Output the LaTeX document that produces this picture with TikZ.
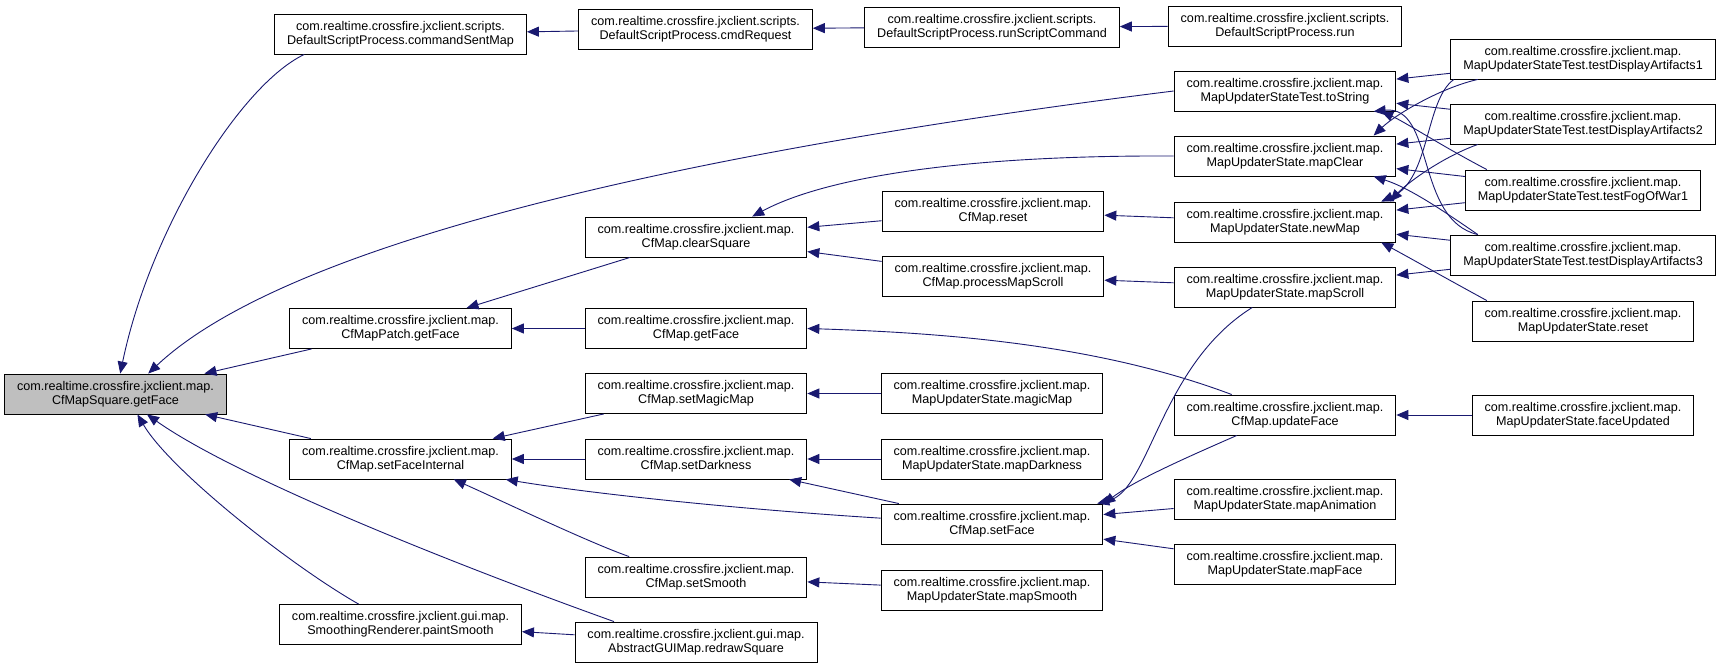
\documentclass[tikz,border=0pt]{standalone}
\usepackage{fontspec}
\setmainfont{Liberation Sans}
\usetikzlibrary{arrows.meta}
\definecolor{edgeblue}{HTML}{191970}
\definecolor{mainfill}{HTML}{BFBFBF}
\tikzset{
  fn/.style={draw=black, fill=white, line width=.9pt, minimum height=40pt,
    inner xsep=12.5pt, inner ysep=0pt, align=center,
    font=\fontsize{12.6}{13.8}\selectfont},
  mainfn/.style={fn, fill=mainfill},
  arr/.style={-{Triangle[length=12pt,width=10pt]}, draw=edgeblue, line width=.9pt}
}
\begin{document}
\begin{tikzpicture}[x=1pt,y=-1pt]
  \useasboundingbox (0,0) rectangle (1723,668);
  \fill[white] (0,0) rectangle (1723,668);

  \node[mainfn] (sqFace) at (115.5,394) {com.realtime.crossfire.jxclient.map.\\CfMapSquare.getFace};

  \node[fn] (cmdSent) at (400.5,34) {com.realtime.crossfire.jxclient.scripts.\\DefaultScriptProcess.commandSentMap};
  \node[fn] (patchFace) at (400.5,328.5) {com.realtime.crossfire.jxclient.map.\\CfMapPatch.getFace};
  \node[fn] (setFaceInt) at (400.5,459) {com.realtime.crossfire.jxclient.map.\\CfMap.setFaceInternal};
  \node[fn] (paintSm) at (400.5,624.5) {com.realtime.crossfire.jxclient.gui.map.\\SmoothingRenderer.paintSmooth};

  \node[fn] (cmdReq) at (695.5,29) {com.realtime.crossfire.jxclient.scripts.\\DefaultScriptProcess.cmdRequest};
  \node[fn] (clearSq) at (696,237) {com.realtime.crossfire.jxclient.map.\\CfMap.clearSquare};
  \node[fn] (cfFace) at (696,328.5) {com.realtime.crossfire.jxclient.map.\\CfMap.getFace};
  \node[fn] (setMagic) at (696,393.5) {com.realtime.crossfire.jxclient.map.\\CfMap.setMagicMap};
  \node[fn] (setDark) at (696,459) {com.realtime.crossfire.jxclient.map.\\CfMap.setDarkness};
  \node[fn] (setSmooth) at (696,577) {com.realtime.crossfire.jxclient.map.\\CfMap.setSmooth};
  \node[fn] (redraw) at (696,642) {com.realtime.crossfire.jxclient.gui.map.\\AbstractGUIMap.redrawSquare};

  \node[fn] (runCmd) at (992,27) {com.realtime.crossfire.jxclient.scripts.\\DefaultScriptProcess.runScriptCommand};
  \node[fn] (cfReset) at (993,211) {com.realtime.crossfire.jxclient.map.\\CfMap.reset};
  \node[fn] (procScroll) at (993,276) {com.realtime.crossfire.jxclient.map.\\CfMap.processMapScroll};
  \node[fn] (magicMap) at (992,393.5) {com.realtime.crossfire.jxclient.map.\\MapUpdaterState.magicMap};
  \node[fn] (mapDark) at (992,459) {com.realtime.crossfire.jxclient.map.\\MapUpdaterState.mapDarkness};
  \node[fn] (setFace) at (992,524) {com.realtime.crossfire.jxclient.map.\\CfMap.setFace};
  \node[fn] (mapSmooth) at (992,590) {com.realtime.crossfire.jxclient.map.\\MapUpdaterState.mapSmooth};

  \node[fn] (runScr) at (1285,26) {com.realtime.crossfire.jxclient.scripts.\\DefaultScriptProcess.run};
  \node[fn] (toStr) at (1285,91) {com.realtime.crossfire.jxclient.map.\\MapUpdaterStateTest.toString};
  \node[fn] (mapClear) at (1285,156) {com.realtime.crossfire.jxclient.map.\\MapUpdaterState.mapClear};
  \node[fn] (newMap) at (1285,222) {com.realtime.crossfire.jxclient.map.\\MapUpdaterState.newMap};
  \node[fn] (mapScroll) at (1285,287) {com.realtime.crossfire.jxclient.map.\\MapUpdaterState.mapScroll};
  \node[fn] (updFace) at (1285,415) {com.realtime.crossfire.jxclient.map.\\CfMap.updateFace};
  \node[fn] (mapAnim) at (1285,499) {com.realtime.crossfire.jxclient.map.\\MapUpdaterState.mapAnimation};
  \node[fn] (mapFace) at (1285,564) {com.realtime.crossfire.jxclient.map.\\MapUpdaterState.mapFace};

  \node[fn] (art1) at (1583,59) {com.realtime.crossfire.jxclient.map.\\MapUpdaterStateTest.testDisplayArtifacts1};
  \node[fn] (art2) at (1583,124) {com.realtime.crossfire.jxclient.map.\\MapUpdaterStateTest.testDisplayArtifacts2};
  \node[fn] (fog1) at (1583,190) {com.realtime.crossfire.jxclient.map.\\MapUpdaterStateTest.testFogOfWar1};
  \node[fn] (art3) at (1583,255) {com.realtime.crossfire.jxclient.map.\\MapUpdaterStateTest.testDisplayArtifacts3};
  \node[fn] (musReset) at (1583,321) {com.realtime.crossfire.jxclient.map.\\MapUpdaterState.reset};
  \node[fn] (faceUpd) at (1583,415) {com.realtime.crossfire.jxclient.map.\\MapUpdaterState.faceUpdated};

  % callers of CfMapSquare.getFace
  \draw[arr] (cmdSent.192.6) .. controls (240,85) and (150,230) .. (sqFace.77.3);
  \draw[arr] (toStr.west) .. controls (700,150) and (290,240) .. (sqFace.32.4);
  \draw[arr] (patchFace) -- (sqFace);
  \draw[arr] (setFaceInt) -- (sqFace);
  \draw[arr] (paintSm.154.8) .. controls (290,565) and (170,470) .. (sqFace.317.1);
  \draw[arr] (redraw.166.1) .. controls (470,570) and (240,480) .. (sqFace.327.6);

  \draw[arr] (clearSq) -- (patchFace);
  \draw[arr] (cfFace) -- (patchFace);
  \draw[arr] (cfReset) -- (clearSq);
  \draw[arr] (procScroll) -- (clearSq);
  \draw[arr] (mapClear.west) .. controls (950,155) and (820,180) .. (clearSq.20.3);

  \draw[arr] (cmdReq) -- (cmdSent);
  \draw[arr] (runCmd) -- (cmdReq);
  \draw[arr] (runScr) -- (runCmd);

  % callers of CfMap.setFaceInternal
  \draw[arr] (setMagic) -- (setFaceInt);
  \draw[arr] (setDark) -- (setFaceInt);
  \draw[arr] (setFace.177.4) .. controls (750,510) and (600,495) .. (setFaceInt.349.2);
  \draw[arr] (setSmooth.163.1) .. controls (590,543) and (500,500) .. (setFaceInt.339.9);

  \draw[arr] (updFace.159) .. controls (1100,345) and (950,333) .. (cfFace.east);
  \draw[arr] (mapScroll.212) .. controls (1160,365) and (1150,490) .. (setFace.11.8);
  \draw[arr] (updFace.203) .. controls (1190,456) and (1135,480) .. (setFace.10.3);
  \draw[arr] (mapAnim) -- (setFace);
  \draw[arr] (mapFace) -- (setFace);
  \draw[arr] (mapDark) -- (setDark);
  \draw[arr] (setFace) -- (setDark);
  \draw[arr] (magicMap) -- (setMagic);
  \draw[arr] (mapSmooth) -- (setSmooth);
  \draw[arr] (redraw) -- (paintSm);
  \draw[arr] (newMap) -- (cfReset);
  \draw[arr] (mapScroll) -- (procScroll);
  \draw[arr] (faceUpd) -- (updFace);

  % test callers
  \draw[arr] (art1) -- (toStr);
  \draw[arr] (art2) -- (toStr);
  \draw[arr] (fog1.168.6) .. controls (1440,145) and (1405,122) .. (toStr.348.9);
  \draw[arr] (art3.169) .. controls (1415,220) and (1435,105) .. (toStr.347.7);
  \draw[arr] (art1.191) .. controls (1440,88) and (1395,115) .. (mapClear.13.7);
  \draw[arr] (art2) -- (mapClear);
  \draw[arr] (fog1) -- (mapClear);
  \draw[arr] (art3.169) .. controls (1445,212) and (1410,188) .. (mapClear.347.7);
  \draw[arr] (art1.189.6) .. controls (1425,100) and (1430,180) .. (newMap.12.9);
  \draw[arr] (art2.191) .. controls (1440,158) and (1405,185) .. (newMap.11.2);
  \draw[arr] (fog1) -- (newMap);
  \draw[arr] (art3) -- (newMap);
  \draw[arr] (art3) -- (mapScroll);
  \draw[arr] (musReset.168.9) .. controls (1440,275) and (1410,258) .. (newMap.348.1);
\end{tikzpicture}
\end{document}
